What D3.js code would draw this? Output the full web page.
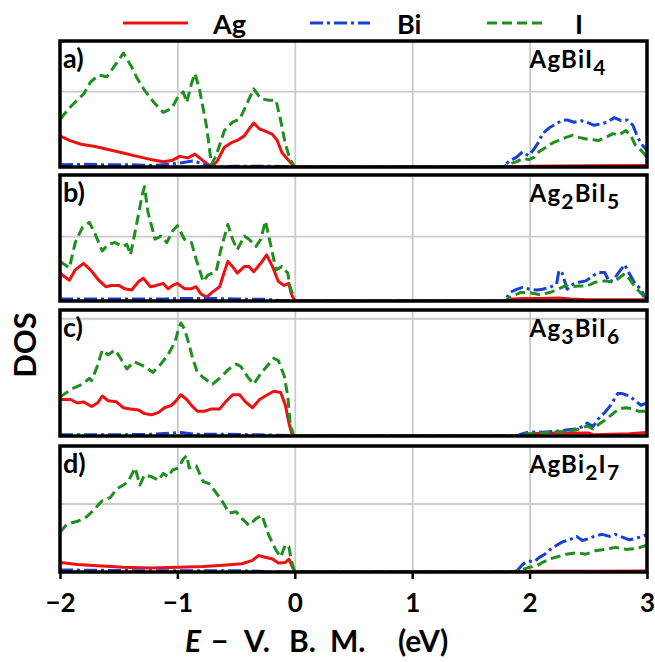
<!DOCTYPE html>
<html>
<head>
<meta charset="utf-8">
<script src="https://cdn.jsdelivr.net/npm/d3@7"></script>
<style>
  body { margin: 0; background: #fff; }
  svg text { font-family: Lato, "Open Sans", sans-serif; font-weight: bold; fill: #000; }
</style>
</head>
<body>
<svg id="chart" width="655" height="662"></svg>
<script>
// projected DOS, energies in eV relative to the valence band maximum
const seriesNames = ["Ag", "Bi", "I"];
const panelLetters = ["a)", "b)", "c)", "d)"];
const compounds = ["AgBiI4", "Ag2BiI5", "Ag3BiI6", "AgBi2I7"];
const xTicks = [-2, -1, 0, 1, 2, 3];
const gridValue = 10;
const yMax = [16.6, 19.4, 10.7, 18.4];

const agA = [[-2,4.1],[-1.92,3.5],[-1.82,3.0],[-1.7,2.7],[-1.59,2.3],[-1.48,1.9],[-1.37,1.5],[-1.23,1.0],[-1.12,0.7],[-1.04,0.9],[-0.98,1.4],[-0.91,1.2],[-0.85,1.7],[-0.78,0.8],[-0.71,0],[-0.66,0.8],[-0.6,2.6],[-0.54,3.2],[-0.49,3.5],[-0.43,4.1],[-0.39,5.0],[-0.35,5.8],[-0.3,5.0],[-0.26,4.8],[-0.19,4.3],[-0.15,3.5],[-0.11,1.9],[-0.06,1.0],[0,0],
  [1.9,0],[2.0,0.1],[2.5,0.15],[3.0,0.2]];
const biA = [[-2,0.3],[-1.8,0.35],[-1.6,0.3],[-1.4,0.3],[-1.2,0.2],[-1.05,0.4],[-0.95,0.6],[-0.87,0.8],[-0.8,0.5],[-0.71,0],[-0.5,0.1],[-0.2,0.1],[0,0],
  [1.77,0],[1.83,0.8],[1.89,1.3],[1.94,2.0],[1.99,1.5],[2.03,2.2],[2.07,3.1],[2.11,4.4],[2.17,5.2],[2.23,5.7],[2.27,6.1],[2.32,6.2],[2.38,5.9],[2.44,6.1],[2.49,5.9],[2.55,5.5],[2.61,5.7],[2.66,5.9],[2.72,6.5],[2.78,6.1],[2.83,6.2],[2.88,5.5],[2.92,3.9],[2.96,2.9],[3.0,2.2]];
const iA = [[-2,6.3],[-1.9,8.1],[-1.8,9.6],[-1.74,11.2],[-1.67,12.1],[-1.6,11.9],[-1.5,14.1],[-1.46,15.0],[-1.39,13.2],[-1.35,11.9],[-1.28,10.1],[-1.2,8.5],[-1.12,7.2],[-1.05,7.7],[-0.99,9.4],[-0.95,9.9],[-0.92,8.5],[-0.88,11.0],[-0.85,12.3],[-0.81,10.1],[-0.75,5.2],[-0.71,0.35],[-0.67,1.5],[-0.6,4.8],[-0.53,5.9],[-0.47,6.3],[-0.42,7.9],[-0.35,10.3],[-0.29,9.0],[-0.22,8.8],[-0.16,8.8],[-0.12,6.1],[-0.08,3.0],[-0.04,1.0],[0,0],
  [1.77,0],[1.83,0.4],[1.89,0.7],[1.94,1.1],[2.0,1.0],[2.04,1.3],[2.08,2.0],[2.14,2.6],[2.2,3.2],[2.25,3.5],[2.31,3.9],[2.37,4.2],[2.42,3.9],[2.48,3.7],[2.54,3.6],[2.59,3.5],[2.65,3.9],[2.71,4.4],[2.76,4.2],[2.82,4.8],[2.86,4.2],[2.9,2.9],[2.95,2.2],[3.0,1.3]];

const agB = [[-2,4.3],[-1.92,3.2],[-1.87,4.8],[-1.8,5.8],[-1.74,4.8],[-1.67,3.2],[-1.61,2.2],[-1.56,2.4],[-1.5,2.4],[-1.45,1.9],[-1.39,1.7],[-1.33,3.0],[-1.29,3.5],[-1.23,2.2],[-1.18,2.4],[-1.12,2.7],[-1.08,1.9],[-1.04,2.4],[-1.0,2.7],[-0.94,1.9],[-0.88,1.9],[-0.84,2.2],[-0.8,1.1],[-0.75,0.6],[-0.7,1.4],[-0.64,2.2],[-0.6,4.5],[-0.57,6.1],[-0.53,5.3],[-0.49,4.3],[-0.43,5.3],[-0.39,5.3],[-0.35,4.5],[-0.29,5.8],[-0.24,7.1],[-0.19,5.3],[-0.14,3.0],[-0.09,2.4],[-0.05,2.7],[-0.03,1.1],[0,0],
  [1.79,0],[1.85,0.3],[1.95,0.4],[2.1,0.4],[2.25,0.45],[2.35,0.3],[2.5,0.2],[3.0,0.2]];
const biB = [[-2,0.3],[-1.5,0.3],[-1.1,0.3],[-1.0,0.4],[-0.7,0.4],[-0.5,0.3],[-0.25,0.25],[-0.1,0.05],[0,0],
  [1.79,0],[1.83,1.3],[1.89,1.8],[1.94,2.1],[2.0,1.8],[2.06,1.7],[2.11,1.8],[2.17,2.1],[2.23,2.6],[2.25,4.7],[2.28,4.2],[2.32,1.8],[2.37,2.6],[2.42,2.9],[2.48,3.1],[2.54,3.9],[2.59,4.4],[2.64,4.4],[2.68,2.9],[2.72,3.4],[2.76,4.4],[2.81,5.6],[2.85,4.2],[2.9,2.6],[2.95,1.8],[2.99,0.3],[3.0,0]];
const iB = [[-2,6.1],[-1.92,5.1],[-1.87,9.0],[-1.81,11.3],[-1.75,12.1],[-1.7,10.3],[-1.64,7.7],[-1.59,8.7],[-1.53,9.0],[-1.47,8.4],[-1.43,8.7],[-1.4,7.1],[-1.35,11.6],[-1.3,16.3],[-1.28,17.6],[-1.25,13.6],[-1.19,9.5],[-1.14,10.0],[-1.09,9.0],[-1.04,10.8],[-1.0,11.6],[-0.94,9.5],[-0.88,9.0],[-0.84,6.4],[-0.78,3.0],[-0.74,4.0],[-0.67,4.5],[-0.63,7.9],[-0.57,11.8],[-0.53,9.5],[-0.49,7.9],[-0.43,10.0],[-0.39,9.5],[-0.33,8.4],[-0.29,9.5],[-0.25,12.3],[-0.21,9.0],[-0.16,4.8],[-0.11,5.3],[-0.06,4.3],[-0.04,2.2],[0,0],
  [1.79,0],[1.84,0.6],[1.92,1.3],[2.0,1.3],[2.08,1.0],[2.17,1.3],[2.24,1.8],[2.3,2.3],[2.35,2.2],[2.42,2.3],[2.49,2.3],[2.56,2.9],[2.64,3.1],[2.71,2.9],[2.75,3.4],[2.81,4.2],[2.85,3.4],[2.9,2.1],[2.96,1.0],[2.99,0.1],[3.0,0]];

const agC = [[-2,3.1],[-1.91,3.1],[-1.85,2.8],[-1.8,2.9],[-1.73,2.5],[-1.68,2.8],[-1.64,3.4],[-1.59,3.0],[-1.52,2.9],[-1.46,2.4],[-1.4,2.3],[-1.33,2.2],[-1.28,1.9],[-1.22,1.8],[-1.16,2.0],[-1.11,2.4],[-1.05,2.6],[-1.01,3.0],[-0.97,3.5],[-0.92,3.1],[-0.88,2.6],[-0.83,2.1],[-0.77,2.1],[-0.71,2.3],[-0.64,2.3],[-0.59,2.9],[-0.53,3.5],[-0.47,3.5],[-0.42,2.9],[-0.36,2.4],[-0.3,3.1],[-0.25,3.4],[-0.18,3.8],[-0.12,3.7],[-0.08,2.6],[-0.05,1.1],[-0.02,0],
  [1.92,0],[1.97,0.1],[2.1,0.25],[2.3,0.25],[2.5,0.25],[2.55,0.1],[2.7,0.15],[2.85,0.2],[3.0,0.3]];
const biC = [[-2,0.1],[-1.5,0.1],[-1.2,0.15],[-1.05,0.25],[-0.97,0.3],[-0.85,0.15],[-0.6,0.15],[-0.3,0.1],[-0.05,0.05],[0,0],
  [1.89,0],[1.94,0.2],[2.0,0.35],[2.06,0.3],[2.14,0.35],[2.23,0.4],[2.31,0.5],[2.4,0.6],[2.45,0.8],[2.49,1.1],[2.54,0.8],[2.58,1.4],[2.64,2.0],[2.69,2.6],[2.75,3.6],[2.79,3.6],[2.85,3.4],[2.9,3.0],[2.95,2.6],[2.97,2.7],[3.0,2.8]];
const iC = [[-2,3.3],[-1.9,4.0],[-1.81,4.4],[-1.75,4.9],[-1.73,4.7],[-1.68,6.0],[-1.64,7.3],[-1.59,6.9],[-1.53,7.3],[-1.49,6.7],[-1.43,5.7],[-1.37,6.3],[-1.3,6.0],[-1.25,5.7],[-1.21,5.4],[-1.15,6.0],[-1.08,6.9],[-1.02,8.0],[-0.99,9.1],[-0.97,9.6],[-0.94,9.1],[-0.91,8.1],[-0.87,6.6],[-0.83,5.4],[-0.77,4.9],[-0.7,4.4],[-0.63,5.0],[-0.56,5.7],[-0.5,6.1],[-0.46,5.9],[-0.4,5.0],[-0.35,4.4],[-0.29,5.3],[-0.23,6.0],[-0.18,6.6],[-0.14,6.4],[-0.09,5.1],[-0.06,3.4],[-0.04,1.1],[-0.01,0],
  [1.9,0],[1.97,0.2],[2.06,0.2],[2.14,0.3],[2.23,0.35],[2.34,0.4],[2.42,0.6],[2.49,0.85],[2.54,0.6],[2.59,1.0],[2.65,1.4],[2.71,1.9],[2.76,2.3],[2.82,2.4],[2.88,2.3],[2.93,2.1],[3.0,2.1]];

const agD = [[-2,1.4],[-1.85,1.1],[-1.68,0.9],[-1.46,0.7],[-1.23,0.6],[-1.0,0.7],[-0.78,0.8],[-0.61,1.0],[-0.45,1.2],[-0.36,1.7],[-0.31,2.4],[-0.26,2.2],[-0.19,1.9],[-0.14,1.3],[-0.08,1.4],[-0.05,1.9],[-0.02,0.7],[0,0],
  [1.95,0],[2.0,0.1],[2.5,0.1],[3.0,0.15]];
const biD = [[-2,0.3],[-1.7,0.25],[-1.4,0.2],[-1.1,0.2],[-0.8,0.2],[-0.5,0.2],[-0.3,0.1],[-0.2,0],[0,0],
  [1.8,0],[1.89,0.1],[1.94,1.1],[1.99,1.6],[2.04,1.5],[2.08,2.1],[2.13,2.6],[2.17,3.2],[2.23,3.9],[2.28,4.4],[2.34,4.7],[2.4,5.2],[2.45,4.6],[2.51,4.9],[2.56,5.3],[2.62,5.5],[2.68,5.2],[2.73,5.5],[2.79,5.1],[2.85,4.7],[2.9,4.9],[2.96,5.2],[3.0,5.5]];
const iD = [[-2,5.8],[-1.94,7.0],[-1.85,7.4],[-1.77,8.1],[-1.71,9.1],[-1.64,10.4],[-1.57,10.9],[-1.52,12.1],[-1.46,12.7],[-1.42,13.2],[-1.36,15.2],[-1.32,12.7],[-1.28,14.2],[-1.22,13.9],[-1.16,13.4],[-1.12,14.4],[-1.08,13.9],[-1.04,14.9],[-0.99,15.2],[-0.95,16.5],[-0.92,17.0],[-0.9,15.2],[-0.84,15.5],[-0.78,13.2],[-0.73,12.9],[-0.67,11.6],[-0.61,10.1],[-0.56,8.6],[-0.5,8.8],[-0.45,7.8],[-0.39,6.8],[-0.33,7.8],[-0.28,8.3],[-0.22,5.3],[-0.16,3.2],[-0.12,2.2],[-0.08,4.0],[-0.05,3.7],[-0.03,1.7],[0,0],
  [1.85,0],[1.94,0.35],[2.0,0.7],[2.06,0.9],[2.11,1.4],[2.17,1.9],[2.23,2.2],[2.31,2.6],[2.4,2.8],[2.48,2.6],[2.56,3.1],[2.65,3.3],[2.73,3.6],[2.82,3.3],[2.9,3.4],[3.0,3.9]];

const panelData = [[agA, biA, iA], [agB, biB, iB], [agC, biC, iC], [agD, biD, iD]];

// styling
const colors = ["#ee1111", "#1740d8", "#1f8f1f"];
const dashes = [null, "13,4,3,4", "10,5"];
const panelTop = [41, 175, 310, 446];
const panelH = 126;

const svg = d3.select("#chart");
const x = d3.scaleLinear().domain([-2, 3]).range([60, 647]);

panelData.forEach((series, p) => {
  const top = panelTop[p];
  const y = d3.scaleLinear().domain([0, yMax[p]]).range([top + panelH, top]);
  const g = svg.append("g");

  g.append("clipPath").attr("id", "clip" + p)
    .append("rect").attr("x", x(-2)).attr("y", top).attr("width", x(3) - x(-2)).attr("height", panelH);

  // grid
  g.append("g").attr("transform", `translate(0,${top + panelH})`)
    .call(d3.axisBottom(x).tickValues([-1, 0, 1, 2]).tickSize(-panelH).tickFormat(""))
    .call(a => a.select(".domain").remove())
    .selectAll("line").attr("stroke", "#cacaca").attr("stroke-width", 1.8);
  g.append("g").attr("transform", `translate(${x(-2)},0)`)
    .call(d3.axisLeft(y).tickValues([gridValue]).tickSize(-(x(3) - x(-2))).tickFormat(""))
    .call(a => a.select(".domain").remove())
    .selectAll("line").attr("stroke", "#cacaca").attr("stroke-width", 1.8);

  const line = d3.line().x(d => x(d[0])).y(d => y(d[1]));
  const lines = g.append("g").attr("clip-path", `url(#clip${p})`);
  series.forEach((s, k) => {
    lines.append("path")
      .attr("d", line(s))
      .attr("fill", "none")
      .attr("stroke", colors[k])
      .attr("stroke-width", 3)
      .attr("stroke-linejoin", "round")
      .attr("stroke-dasharray", dashes[k]);
  });

  g.append("rect")
    .attr("x", x(-2)).attr("y", top)
    .attr("width", x(3) - x(-2)).attr("height", panelH)
    .attr("fill", "none").attr("stroke", "#000").attr("stroke-width", 3.5);

  g.append("text").attr("x", 63).attr("y", top + 27)
    .attr("font-size", 27).text(panelLetters[p]);

  // formula with subscripts
  const t = g.append("text").attr("x", x(2)).attr("y", top + 27).attr("font-size", 24)
    .attr("letter-spacing", 1.2);
  let shifted = false;
  compounds[p].match(/[A-Za-z]+|\d+/g).forEach(part => {
    if (/\d/.test(part)) {
      t.append("tspan").attr("font-size", 21).attr("dy", 7).text(part);
      shifted = true;
    } else {
      t.append("tspan").attr("dy", shifted ? -7 : null).text(part);
      shifted = false;
    }
  });
});

// x axis under the last panel
const bottom = panelTop[3] + panelH;
svg.append("g")
  .attr("transform", `translate(0,${bottom})`)
  .call(d3.axisBottom(x).tickValues(xTicks).tickSize(7).tickPadding(15).tickFormat(d3.format("d")))
  .call(a => a.select(".domain").remove())
  .call(a => a.selectAll("line").attr("stroke", "#000").attr("stroke-width", 2.5))
  .call(a => a.selectAll("text").attr("font-size", 26).attr("font-family", "Lato, sans-serif").attr("font-weight", "bold"));

// axis titles
const xt = svg.append("text").attr("y", 652).attr("font-size", 30);
[["E", 185, true], ["\u2212", 211], ["V.", 244], ["B.", 289], ["M.", 330], ["(eV)", 398]].forEach(([s, px, it]) => {
  xt.append("tspan").attr("x", px).attr("font-style", it ? "italic" : null).text(s);
});

svg.append("text")
  .attr("transform", "translate(36,345) rotate(-90)")
  .attr("text-anchor", "middle").attr("font-size", 31)
  .text("DOS");

// legend
const legendX = [[123, 188, 213], [310, 370, 397], [487, 546, 575]];
seriesNames.forEach((name, k) => {
  const [x0, x1, tx] = legendX[k];
  svg.append("line").attr("x1", x0).attr("x2", x1).attr("y1", 23).attr("y2", 23)
    .attr("stroke", colors[k]).attr("stroke-width", 3).attr("stroke-dasharray", dashes[k]);
  svg.append("text").attr("x", tx).attr("y", 34).attr("font-size", 27).text(name);
});
</script>
</body>
</html>
